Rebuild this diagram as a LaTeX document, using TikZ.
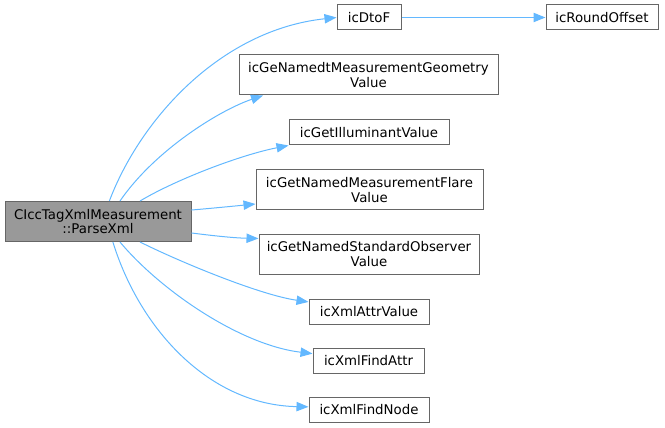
\documentclass[tikz,border=0pt]{standalone}
\usepackage{fontspec}
\setmainfont{DejaVu Sans}
\usetikzlibrary{arrows.meta}
\definecolor{edgeblue}{HTML}{63B8FF}
\definecolor{boxgray}{HTML}{666666}
\definecolor{fillgray}{HTML}{999999}
\tikzset{
  fn/.style={draw=boxgray, line width=0.75pt, fill=white, align=center, inner sep=1pt,
    font=\fontsize{10}{11}\selectfont, minimum height=18.75pt},
  fntwo/.style={fn, minimum height=30pt},
  call/.style={draw=edgeblue, line width=0.75pt, -{Triangle[length=9pt,width=7pt]}}
}
\begin{document}
\begin{tikzpicture}[x=0.75pt, y=-0.75pt]
        \useasboundingbox (0,0) rectangle (665,428);
        % caller
        \node [fntwo, fill=fillgray, minimum width=139.5pt] (parse) at (98,221.5) {CIccTagXmlMeasurement\\::ParseXml};
        % callees
        \node [fn, minimum width=48pt] (dtof) at (369,17.5) {icDtoF};
        \node [fn, minimum width=84pt] (round) at (602,17.5) {icRoundOffset};
        \node [fntwo, minimum width=194.25pt] (geom) at (368.5,75) {icGeNamedtMeasurementGeometry\\Value};
        \node [fn, minimum width=120pt] (illum) at (369,132.5) {icGetIlluminantValue};
        \node [fntwo, minimum width=170.25pt] (flare) at (369.5,190) {icGetNamedMeasurementFlare\\Value};
        \node [fntwo, minimum width=165pt] (observer) at (369,254) {icGetNamedStandardObserver\\Value};
        \node [fn, minimum width=90pt] (attrval) at (369,311.5) {icXmlAttrValue};
        \node [fn, minimum width=83.25pt] (findattr) at (368.5,360.5) {icXmlFindAttr};
        \node [fn, minimum width=90pt] (findnode) at (369,410) {icXmlFindNode};
        % calls
        \draw [call] (parse.61) .. controls (140,120) and (220,30) .. (dtof.west);
        \draw [call] (dtof.east) -- (round.west);
        \draw [call] (parse.43) .. controls (155,150) and (220,110) .. (geom.191);
        \draw [call] (parse.26) .. controls (175,180) and (240,155) .. (illum.south west);
        \draw [call] (parse.7) .. controls (215,208) and (235,206) .. (flare.187);
        \draw [call] (parse.-7.7) .. controls (215,236) and (235,238) .. (observer.172.7);
        \draw [call] (parse.-26) .. controls (180,262) and (260,295) .. (attrval.171);
        \draw [call] (parse.-43) .. controls (160,290) and (240,345) .. (findattr.173.4);
        \draw [call] (parse.-54) .. controls (140,330) and (210,405) .. (findnode.177);
\end{tikzpicture}
\end{document}
